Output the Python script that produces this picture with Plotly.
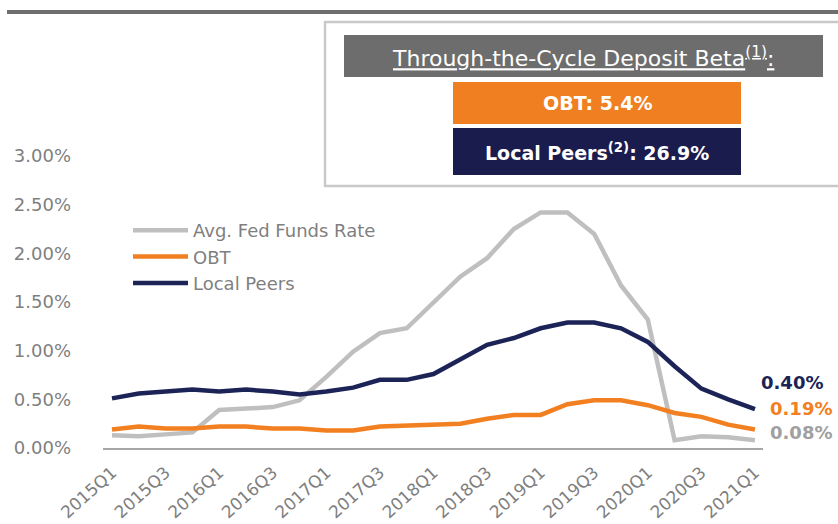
import plotly.graph_objects as go

quarters = [f"{y}Q{q}" for y in range(2015, 2021) for q in range(1, 5)] + ["2021Q1"]
fed_funds = [0.13, 0.12, 0.14, 0.16, 0.39, 0.40, 0.42, 0.49, 0.73, 0.99, 1.18, 1.23, 1.49,
             1.76, 1.95, 2.25, 2.42, 2.42, 2.20, 1.67, 1.32, 0.08, 0.12, 0.11, 0.08]
obt = [0.19, 0.22, 0.20, 0.20, 0.22, 0.22, 0.20, 0.20, 0.18, 0.18, 0.22, 0.23, 0.24,
       0.25, 0.30, 0.34, 0.34, 0.45, 0.49, 0.49, 0.44, 0.36, 0.32, 0.24, 0.19]
local_peers = [0.51, 0.56, 0.58, 0.60, 0.58, 0.60, 0.58, 0.55, 0.58, 0.62, 0.70, 0.70, 0.76,
               0.91, 1.06, 1.13, 1.23, 1.29, 1.29, 1.23, 1.09, 0.84, 0.61, 0.50, 0.40]
y_ticks = [0, 0.5, 1.0, 1.5, 2.0, 2.5, 3.0]
y_tick_labels = ["0.00%", "0.50%", "1.00%", "1.50%", "2.00%", "2.50%", "3.00%"]
box_title = "Through-the-Cycle Deposit Beta<sup>(1)</sup>:"
obt_beta = "OBT: 5.4%"
peers_beta = "Local Peers<sup>(2)</sup>: 26.9%"

W, H = 838, 524
L, R, T, B = 103, 763, 156, 448
FONT = "DejaVu Sans"
GRAY = "#bfbfbf"
ORANGE = "#f28021"
NAVY = "#1c2457"
TXT = "#7f7f7f"

def px(x):
    return (x - L) / (R - L)

def py(y):
    return (B - y) / (B - T)

idx = list(range(len(quarters)))
fig = go.Figure()
for name, vals, col in [("Avg. Fed Funds Rate", fed_funds, GRAY),
                        ("OBT", obt, ORANGE),
                        ("Local Peers", local_peers, NAVY)]:
    fig.add_trace(go.Scatter(x=idx, y=vals, mode="lines", name=name,
                             line=dict(color=col, width=4.5), cliponaxis=False))

shapes = [
    dict(type="line", xref="paper", yref="paper", x0=px(7), x1=px(845), y0=py(12), y1=py(12),
         line=dict(color="#6e6e6e", width=4)),
    dict(type="rect", xref="paper", yref="paper", x0=px(325), x1=px(850), y0=py(22), y1=py(186),
         line=dict(color="#c9c9c9", width=2.5), fillcolor="rgba(0,0,0,0)"),
    dict(type="rect", xref="paper", yref="paper", x0=px(344), x1=px(823), y0=py(35), y1=py(77),
         line=dict(width=0), fillcolor="#6d6d6d"),
    dict(type="rect", xref="paper", yref="paper", x0=px(453), x1=px(741), y0=py(82), y1=py(124),
         line=dict(width=0), fillcolor="#f07f22"),
    dict(type="rect", xref="paper", yref="paper", x0=px(453), x1=px(741), y0=py(128), y1=py(175),
         line=dict(width=0), fillcolor="#1b1c4e"),
]

annotations = [
    dict(xref="paper", yref="paper", x=px(583), y=py(57), text="<u>" + box_title + "</u>",
         showarrow=False, font=dict(family=FONT, size=22, color="white"), xanchor="center", yanchor="middle"),
    dict(xref="paper", yref="paper", x=px(597), y=py(103), text="<b>" + obt_beta + "</b>",
         showarrow=False, font=dict(family=FONT, size=19, color="white"), xanchor="center", yanchor="middle"),
    dict(xref="paper", yref="paper", x=px(597), y=py(152), text="<b>" + peers_beta + "</b>",
         showarrow=False, font=dict(family=FONT, size=19, color="white"), xanchor="center", yanchor="middle"),
]
for vals, col, shift_x, shift_y in [(local_peers, NAVY, 4, 27), (obt, ORANGE, 13, 21), (fed_funds, "#a0a0a0", 13, 8)]:
    annotations.append(dict(x=idx[-1], y=vals[-1], xref="x", yref="y", text=f"<b>{vals[-1]:.2f}%</b>",
                            showarrow=False, xanchor="left", yanchor="middle", xshift=shift_x, yshift=shift_y,
                            font=dict(family=FONT, size=18, color=col)))

fig.update_layout(
    width=W, height=H, autosize=False,
    margin=dict(l=L, r=W - R, t=T, b=H - B, pad=0, autoexpand=False),
    plot_bgcolor="white", paper_bgcolor="white",
    font=dict(family=FONT, color=TXT),
    showlegend=True,
    legend=dict(x=px(128), y=py(212), xanchor="left", yanchor="top", bgcolor="rgba(0,0,0,0)",
                font=dict(family=FONT, size=18, color=TXT), itemwidth=55, tracegroupgap=0),
    shapes=shapes, annotations=annotations,
    xaxis=dict(range=[-0.336, 24.3], tickmode="array", tickvals=idx[::2], ticktext=quarters[::2],
               tickangle=-42, showgrid=False, zeroline=False, showline=True, linecolor="#a6a6a6",
               linewidth=2, ticks="", automargin=False, ticklabelstandoff=6,
               tickfont=dict(family=FONT, size=17, color=TXT)),
    yaxis=dict(range=[0, 3.0], tickmode="array", tickvals=y_ticks, ticktext=y_tick_labels,
               showgrid=False, zeroline=False, showline=False, ticks="", ticklabelstandoff=31,
               automargin=False, tickfont=dict(family=FONT, size=18, color=TXT)),
)

fig.write_html("out.html", config={"displayModeBar": False},
               post_script="document.body.style.margin='0';document.documentElement.style.overflow='hidden';")
